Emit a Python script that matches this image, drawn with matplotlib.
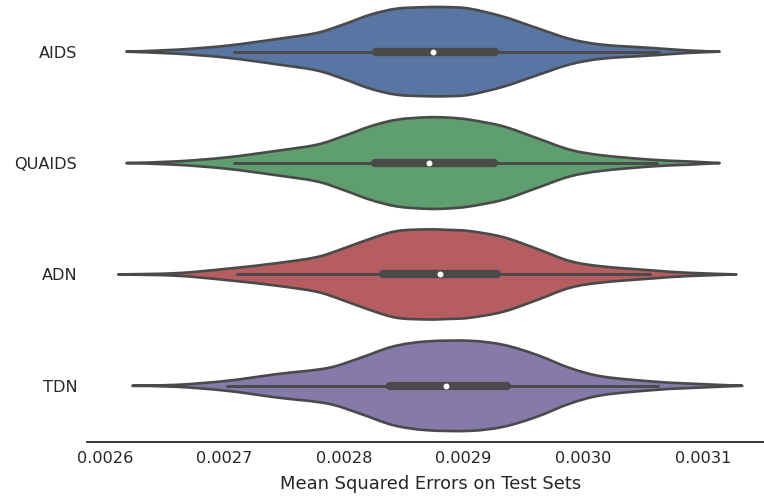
import colorsys

import matplotlib
matplotlib.use("Agg")
import matplotlib.pyplot as plt
import matplotlib.colors as mcolors
from matplotlib.path import Path
from matplotlib.patches import PathPatch
import numpy as np

models = ["AIDS", "QUAIDS", "ADN", "TDN"]
base_colors = ["#4C72B0", "#55A868", "#C44E52", "#8172B2"]

# Violin outlines: MSE value -> relative density (peak ~1)
aids_mse = [0.002618, 0.002660, 0.002702, 0.002744, 0.002777, 0.002799, 0.002822,
            0.002844, 0.002869, 0.002887, 0.002905, 0.002933, 0.002961, 0.002989,
            0.003016, 0.003058, 0.003087, 0.003114]
aids_density = [0.0, 0.045, 0.135, 0.285, 0.42, 0.607, 0.831, 0.966, 1.0, 1.0,
                0.966, 0.787, 0.533, 0.285, 0.157, 0.083, 0.029, 0.0]

quaids_mse = [0.002618, 0.002660, 0.002702, 0.002744, 0.002777, 0.002799, 0.002822,
              0.002844, 0.002869, 0.002887, 0.002905, 0.002933, 0.002961, 0.002989,
              0.003016, 0.003058, 0.003087, 0.003114]
quaids_density = [0.0, 0.038, 0.128, 0.276, 0.411, 0.6, 0.825, 0.973, 1.027, 1.02,
                  0.973, 0.825, 0.562, 0.299, 0.173, 0.074, 0.038, 0.0]

adn_mse = [0.002611, 0.002660, 0.002702, 0.002744, 0.002777, 0.002799, 0.002822,
           0.002844, 0.002869, 0.002887, 0.002905, 0.002933, 0.002961, 0.002989,
           0.003016, 0.003058, 0.003087, 0.003128]
adn_density = [0.0, 0.029, 0.128, 0.254, 0.389, 0.578, 0.802, 0.973, 1.011, 1.0,
               0.973, 0.838, 0.578, 0.299, 0.18, 0.09, 0.038, 0.0]

tdn_mse = [0.002623, 0.002660, 0.002702, 0.002744, 0.002786, 0.002813, 0.002841,
           0.002869, 0.002905, 0.002933, 0.002961, 0.002989, 0.003016, 0.003058,
           0.003087, 0.003133]
tdn_density = [0.0, 0.022, 0.112, 0.263, 0.398, 0.622, 0.883, 0.996, 1.011, 0.921,
               0.697, 0.398, 0.209, 0.097, 0.052, 0.0]

violin_mse = [aids_mse, quaids_mse, adn_mse, tdn_mse]
violin_density = [aids_density, quaids_density, adn_density, tdn_density]

# Inner box summaries
whisker_lo = [0.0027079, 0.0027079, 0.0027104, 0.0027020]
q1 = [0.0028266, 0.0028257, 0.0028324, 0.0028383]
medians = [0.0028742, 0.0028709, 0.0028801, 0.0028851]
q3 = [0.0029261, 0.0029252, 0.0029278, 0.0029361]
whisker_hi = [0.0030632, 0.0030615, 0.0030557, 0.0030624]

xticks = [0.0026, 0.0027, 0.0028, 0.0029, 0.0030, 0.0031]

TEXT = "#262626"
GRAY = "#4a4a4a"
HALF_WIDTH = 0.4


def _desaturate(color, prop):
    r, g, b = mcolors.to_rgb(color)
    h, l, s = colorsys.rgb_to_hls(r, g, b)
    return colorsys.hls_to_rgb(h, l, s * prop)


def _smooth(points):
    # Catmull-Rom through the read points, drawn as cubic bezier segments
    verts = [points[0]]
    codes = [Path.MOVETO]
    n = len(points)
    for i in range(n - 1):
        p0 = points[i - 1] if i > 0 else points[i]
        p1 = points[i]
        p2 = points[i + 1]
        p3 = points[i + 2] if i + 2 < n else points[i + 1]
        verts += [p1 + (p2 - p0) / 6, p2 - (p3 - p1) / 6, p2]
        codes += [Path.CURVE4] * 3
    return verts, codes


fig = plt.figure(figsize=(7.64, 4.99), dpi=100)
ax = fig.add_axes([87 / 764, 1 - 441.5 / 499, (774 - 87) / 764, 445.5 / 499])

for i, name in enumerate(models):
    x = np.array(violin_mse[i])
    d = np.array(violin_density[i]) * HALF_WIDTH
    top = np.column_stack([x, i - d])
    bottom = np.column_stack([x[::-1], i + d[::-1]])
    v1, c1 = _smooth(top)
    v2, c2 = _smooth(bottom)
    c2[0] = Path.LINETO
    verts = v1 + v2 + [v1[0]]
    codes = c1 + c2 + [Path.CLOSEPOLY]
    patch = PathPatch(Path(verts, codes), facecolor=_desaturate(base_colors[i], 0.75),
                      edgecolor=GRAY, linewidth=1.9, joinstyle="round", zorder=1)
    ax.add_patch(patch)

    ax.plot([whisker_lo[i], whisker_hi[i]], [i, i], color=GRAY, linewidth=2.1,
            solid_capstyle="round", zorder=2)
    ax.plot([q1[i], q3[i]], [i, i], color=GRAY, linewidth=6.0,
            solid_capstyle="round", zorder=2)
    ax.scatter([medians[i]], [i], s=18, color="white", edgecolor=GRAY,
               linewidth=0, zorder=3)

ax.set_xlim(0.002585, 0.0031595)
ax.set_ylim(3.5, -0.5)
ax.set_yticks(range(len(models)))
ax.set_yticklabels(models)
ax.set_xticks(xticks)
ax.set_xticklabels([f"{t:.4f}" for t in xticks])
ax.tick_params(axis="both", length=0, pad=7, labelsize=11.6, labelcolor=TEXT)
ax.set_xlabel("Mean Squared Errors on Test Sets", fontsize=12.9, color=TEXT, labelpad=6)

for side in ("top", "right", "left"):
    ax.spines[side].set_visible(False)
ax.spines["bottom"].set_linewidth(1.3)
ax.spines["bottom"].set_color(TEXT)

fig.savefig("out.png", dpi=100)
